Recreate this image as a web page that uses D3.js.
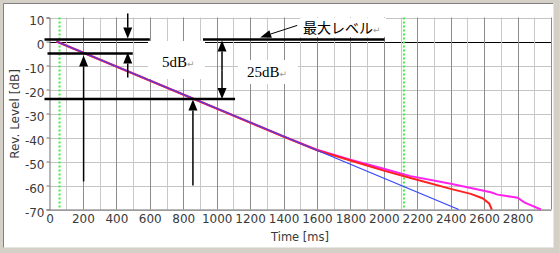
<!DOCTYPE html>
<html>
<head>
<meta charset="utf-8">
<script src="https://cdn.jsdelivr.net/npm/d3@7"></script>
<style>
  body { margin: 0; background: #d4d0c8; }
  svg { display: block; }
</style>
</head>
<body>
<div id="chart"></div>
<script>
// decay curves: time [ms] / level [dB]
var blueTime = [42, 2448];
var blueLevel = [0, -70];
var redTime = [42, 1400, 1600, 1800, 2000, 2160, 2400, 2520, 2590, 2630, 2646];
var redLevel = [0, -39.6, -45.3, -49.6, -53.8, -56.9, -61.4, -63.5, -65.3, -67.5, -70];
var magentaTime = [42, 1400, 1600, 1800, 2000, 2160, 2400, 2640, 2680, 2800, 2840, 2940];
var magentaLevel = [0, -39.6, -45.1, -49.3, -53, -56.1, -59.3, -62.8, -63.8, -65.1, -67, -70];

// green dotted markers [ms]
var markerTime = [60, 2120];

// tick labels
var xTicks = [0, 200, 400, 600, 800, 1000, 1200, 1400, 1600, 1800, 2000, 2200, 2400, 2600, 2800];
var yTicks = [10, 0, -10, -20, -30, -40, -50, -60, -70];

// annotation lines (ms, dB)
var levelLines = [
    { t0: -30, t1: 600, db: 0.8 },
    { t0: 918, t1: 2004, db: 0.8 },
    { t0: -12, t1: 498, db: -5 },
    { t0: -30, t1: 1110, db: -24 }
];
// arrows: from (t, db0) to tip (t, db1)
var arrows = [
    { t: 468, from: 11.7, to: 1.2 },
    { t: 468, from: -15, to: -4.6 },
    { t: 204, from: -58.3, to: -5.8 },
    { t: 858, from: -60, to: -24.2 },
    { t: 1032, from: -12, to: 0.4 },
    { t: 1032, from: -12, to: -24 }
];

(function () {
    'use strict';

    var width = 559, height = 253;

    var svg = d3.select('#chart').append('svg')
        .attr('width', width)
        .attr('height', height);

    // window frame
    svg.append('rect').attr('x', 0).attr('y', 0).attr('width', width).attr('height', height).attr('fill', '#d4d0c8');
    svg.append('rect').attr('x', 4).attr('y', 4).attr('width', 549).attr('height', 243).attr('fill', '#fff');
    svg.append('line').attr('x1', 3.5).attr('x2', 553).attr('y1', 3.5).attr('y2', 3.5).attr('stroke', '#808080');
    svg.append('line').attr('x1', 3.5).attr('x2', 3.5).attr('y1', 3.5).attr('y2', 248).attr('stroke', '#808080');
    svg.append('line').attr('x1', 3.5).attr('x2', 553.5).attr('y1', 247.5).attr('y2', 247.5).attr('stroke', '#e8e6e0');
    svg.append('line').attr('x1', 553.5).attr('x2', 553.5).attr('y1', 3.5).attr('y2', 248).attr('stroke', '#e8e6e0');

    var x = d3.scaleLinear().domain([0, 3000]).range([49.5, 551]);
    var y = d3.scaleLinear().domain([10, -70]).range([17.5, 209.5]);

    // grid
    var grid = svg.append('g');
    grid.selectAll('.hg')
        .data(d3.range(10, -71, -10))
        .enter().append('line')
        .attr('x1', x(0)).attr('x2', x(3000))
        .attr('y1', function (d) { return Math.round(y(d)) + 0.5; })
        .attr('y2', function (d) { return Math.round(y(d)) + 0.5; })
        .attr('stroke', function (d) { return d === 0 ? '#000' : '#c4c4c4'; });
    grid.selectAll('.vg')
        .data(d3.range(100, 3001, 100))
        .enter().append('line')
        .attr('x1', function (d) { return Math.round(x(d)) + 0.5; })
        .attr('x2', function (d) { return Math.round(x(d)) + 0.5; })
        .attr('y1', y(10)).attr('y2', y(-70))
        .attr('stroke', function (d) { return d % 200 === 0 ? '#8c8c8c' : '#c8c8c8'; });

    // axes
    var yAxis = d3.axisLeft(y).tickValues(yTicks).tickSize(3).tickPadding(2)
        .tickFormat(function (d) { return String(d); });
    var gy = svg.append('g').attr('transform', 'translate(' + x(0) + ',0)').call(yAxis);
    var xAxis = d3.axisBottom(x).tickValues(xTicks).tickSize(0).tickPadding(5)
        .tickFormat(function (d) { return String(d); });
    var gx = svg.append('g').attr('transform', 'translate(0,' + y(-70) + ')').call(xAxis);
    [gx, gy].forEach(function (g) {
        g.select('.domain').attr('stroke', '#707070');
        g.selectAll('.tick line').attr('stroke', '#707070');
        g.selectAll('text')
            .attr('fill', '#3a3a3a')
            .style('font-family', 'DejaVu Sans')
            .style('font-size', '12px');
    });
    gy.selectAll('text').attr('dy', '0.55em');

    svg.append('text')
        .attr('transform', 'translate(19,114) rotate(-90)')
        .attr('text-anchor', 'middle')
        .attr('fill', '#3a3a3a')
        .style('font-family', 'DejaVu Sans')
        .style('font-size', '12px')
        .text('Rev. Level [dB]');
    svg.append('text')
        .attr('x', 300).attr('y', 241)
        .attr('text-anchor', 'middle')
        .attr('fill', '#3a3a3a')
        .style('font-family', 'DejaVu Sans')
        .style('font-size', '11.5px')
        .text('Time [ms]');

    // green markers
    svg.selectAll('.marker')
        .data(markerTime)
        .enter().append('line')
        .attr('x1', function (d) { return x(d); })
        .attr('x2', function (d) { return x(d); })
        .attr('y1', y(10)).attr('y2', y(-70))
        .attr('stroke', '#3cf03c')
        .attr('stroke-width', 2)
        .attr('stroke-dasharray', '2,2');

    // curves
    var line = d3.line()
        .x(function (d) { return x(d[0]); })
        .y(function (d) { return y(d[1]); });
    var series = [
        { t: magentaTime, v: magentaLevel, color: '#ff22ee', w: 2 },
        { t: redTime, v: redLevel, color: '#ff2020', w: 2 },
        { t: blueTime, v: blueLevel, color: '#3344ff', w: 1.2 }
    ];
    svg.selectAll('.curve')
        .data(series)
        .enter().append('path')
        .attr('d', function (s) { return line(d3.zip(s.t, s.v)); })
        .attr('fill', 'none')
        .attr('stroke', function (s) { return s.color; })
        .attr('stroke-width', function (s) { return s.w; });

    // annotation overlay
    var ann = svg.append('g');

    // text boxes with white background
    ann.append('rect').attr('x', 148).attr('y', 41).attr('width', 57).attr('height', 38).attr('fill', '#fff');
    ann.append('rect').attr('x', 238).attr('y', 60).attr('width', 60).attr('height', 24).attr('fill', '#fff');
    ann.append('rect').attr('x', 300).attr('y', 18).attr('width', 86).attr('height', 19).attr('fill', '#fff');

    ann.selectAll('.lvl')
        .data(levelLines)
        .enter().append('line')
        .attr('x1', function (d) { return x(d.t0); })
        .attr('x2', function (d) { return x(d.t1); })
        .attr('y1', function (d) { return y(d.db); })
        .attr('y2', function (d) { return y(d.db); })
        .attr('stroke', '#000')
        .attr('stroke-width', 2.5);

    var headLen = 11, headHalf = 4.5;
    arrows.forEach(function (a) {
        var px = x(a.t), y0 = y(a.from), y1 = y(a.to);
        var dir = y1 > y0 ? 1 : -1;
        ann.append('line')
            .attr('x1', px).attr('x2', px)
            .attr('y1', y0).attr('y2', y1 - dir * headLen)
            .attr('stroke', '#000').attr('stroke-width', 1.5);
        ann.append('path')
            .attr('d', 'M' + px + ',' + y1 +
                'L' + (px - headHalf) + ',' + (y1 - dir * headLen) +
                'L' + (px + headHalf) + ',' + (y1 - dir * headLen) + 'Z')
            .attr('fill', '#000');
    });

    // pointer to the max level line
    var p0 = [x(1482), y(6.7)], p1 = [x(1260), y(1.7)];
    var ang = Math.atan2(p1[1] - p0[1], p1[0] - p0[0]);
    var hb = [p1[0] - 11 * Math.cos(ang), p1[1] - 11 * Math.sin(ang)];
    ann.append('line')
        .attr('x1', p0[0]).attr('y1', p0[1]).attr('x2', hb[0]).attr('y2', hb[1])
        .attr('stroke', '#000').attr('stroke-width', 1);
    ann.append('path')
        .attr('d', 'M' + p1[0] + ',' + p1[1] +
            'L' + (hb[0] - 4 * Math.sin(ang)) + ',' + (hb[1] + 4 * Math.cos(ang)) +
            'L' + (hb[0] + 4 * Math.sin(ang)) + ',' + (hb[1] - 4 * Math.cos(ang)) + 'Z')
        .attr('fill', '#000');

    // labels
    function label(tx, ty, str, font, size) {
        var t = ann.append('text').attr('x', tx).attr('y', ty)
            .style('font-family', font).style('font-size', size + 'px').attr('fill', '#000');
        t.append('tspan').text(str);
        t.append('tspan').attr('fill', '#999').style('font-family', 'DejaVu Sans')
            .style('font-size', '9px').text('\u21b5');
    }
    label(303, 33, '最大レベル', 'Noto Sans CJK JP', 14);
    label(162, 67, '5dB', 'Liberation Serif', 15);
    label(247, 77, '25dB', 'Liberation Serif', 15);
})();
</script>
</body>
</html>
